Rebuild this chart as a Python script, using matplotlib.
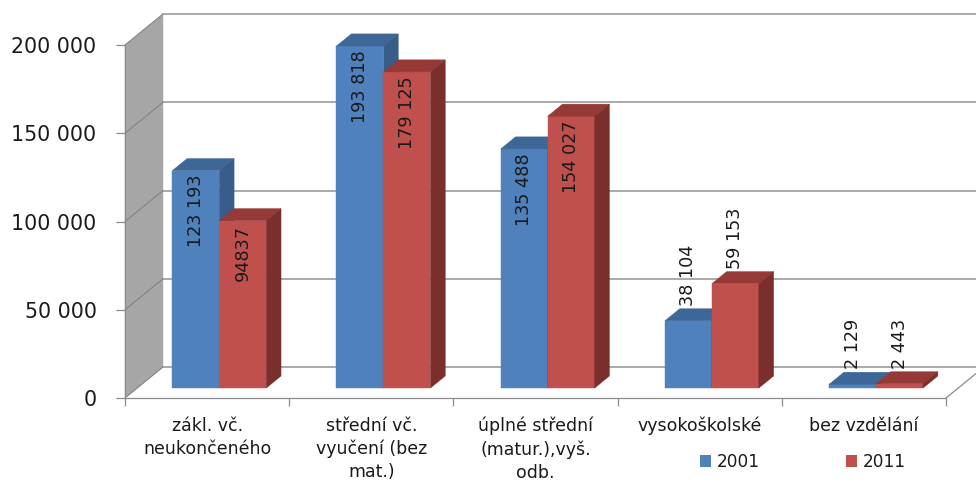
import matplotlib
matplotlib.use("Agg")
import matplotlib.pyplot as plt
from matplotlib.patches import Polygon, Patch
from matplotlib.lines import Line2D
from matplotlib.transforms import IdentityTransform

categories = ["zákl. vč.\nneukončeného", "střední vč.\nvyučení (bez\nmat.)",
              "úplné střední\n(matur.),vyš.\nodb.", "vysokoškolské", "bez vzdělání"]
years = ["2001", "2011"]
v2001 = [123193, 193818, 135488, 38104, 2129]
v2011 = [94837, 179125, 154027, 59153, 2443]
lab2001 = ["123 193", "193 818", "135 488", "38 104", "2 129"]
lab2011 = ["94837", "179 125", "154 027", "59 153", "2 443"]
yticks = [0, 50000, 100000, 150000, 200000]
yticklabels = ["0", "50 000", "100 000", "150 000", "200 000"]

W, H, DPI = 976, 484, 100
DX, DY = 38, 31          # px shift from front plane to back wall
ZF, ZB = 0.32, 0.71      # depth range of the columns
BW = 0.286               # column width, category units
TXT = "#1a1a1a"
# front, top, side shades
shades = [("#4f81bd", "#3d6796", "#385d8a"),
          ("#c0504d", "#953a37", "#7b2f2d")]

fig = plt.figure(figsize=(W / DPI, H / DPI), dpi=DPI)
ax = fig.add_axes([125 / W, 86 / H, 821 / W, 353 / H])
ax.set_xlim(0, len(categories))
ax.set_ylim(yticks[0], yticks[-1])
ax.patch.set_visible(False)
for s in ("top", "right"):
    ax.spines[s].set_visible(False)
for s in ("left", "bottom"):
    ax.spines[s].set_color("#8c8c8c")
    ax.spines[s].set_linewidth(0.9)

ident = IdentityTransform()


def proj(x, y, z):
    """data point on depth plane z (0 front, 1 back wall) -> display px"""
    px, py = ax.transData.transform((x, y))
    return (px + DX * z, py + DY * z)


def poly(pts, color, zo=1):
    ax.add_patch(Polygon(pts, closed=True, facecolor=color, edgecolor=color,
                         lw=0.3, transform=ident, clip_on=False, zorder=zo))


def seg(p, q, color, lw, zo=1):
    ax.add_line(Line2D([p[0], q[0]], [p[1], q[1]], color=color, lw=lw,
                       transform=ident, clip_on=False, zorder=zo))


n = len(categories)
ymax = yticks[-1]

# side wall + grid
poly([proj(0, 0, 0), proj(0, ymax, 0), proj(0, ymax, 1), proj(0, 0, 1)], "#a6a6a6")
for v in yticks:
    seg(proj(0, v, 1), proj(n, v, 1), "#a3a3a3", 1.3)
    seg(proj(0, v, 0), proj(0, v, 1), "#7f7f7f", 0.7)
seg(proj(n, 0, 0), proj(n, 0, 1), "#8c8c8c", 0.9)

# columns
for i in range(n):
    c = i + 0.5
    for j, (vals, labs) in enumerate([(v2001, lab2001), (v2011, lab2011)]):
        x0 = c - BW + j * BW
        x1 = x0 + BW
        v = vals[i]
        fc, tc, sc = shades[j]
        poly([proj(x0, 0, ZF), proj(x1, 0, ZF), proj(x1, v, ZF), proj(x0, v, ZF)], fc, 2)
        poly([proj(x0, v, ZF), proj(x1, v, ZF), proj(x1, v, ZB), proj(x0, v, ZB)], tc, 2)
        poly([proj(x1, 0, ZF), proj(x1, 0, ZB), proj(x1, v, ZB), proj(x1, v, ZF)], sc, 2)

        xc = (x0 + x1) / 2
        px, py = proj(xc, v, ZF)
        if v > 90000:
            ax.text(px, py - 4, labs[i], rotation=90, ha="center", va="top",
                    fontsize=12.7, color=TXT, transform=ident, zorder=5)
        else:
            _, pyb = proj(xc, v, ZB)
            ax.text(px, pyb + 3, labs[i], rotation=90, ha="center", va="bottom",
                    fontsize=12.7, color=TXT, transform=ident, zorder=5)

# axes ticks and labels
ax.set_yticks(yticks, yticklabels)
ax.tick_params(axis="y", length=6.5, width=0.9, pad=14, color="#8c8c8c",
               labelsize=14.8, labelcolor=TXT)
ax.set_xticks(range(n + 1), [""] * (n + 1))
ax.tick_params(axis="x", which="major", length=5.8, width=0.9, color="#8c8c8c")
ax.set_xticks([i + 0.5 for i in range(n)], categories, minor=True)
ax.tick_params(axis="x", which="minor", length=0, pad=13.5, labelsize=12.5,
               labelcolor=TXT)
for lbl in ax.get_xticklabels(minor=True):
    lbl.set_linespacing(1.35)

handles = [Patch(facecolor=shades[k][0], edgecolor="none") for k in range(2)]
fig.legend(handles, years, loc="center", bbox_to_anchor=(803 / W, 1 - 462 / H),
           ncol=2, frameon=False, fontsize=12.2, handlelength=0.65,
           handleheight=0.65, handletextpad=0.35, columnspacing=5.1,
           labelcolor=TXT)

fig.savefig("out.png", dpi=DPI)
